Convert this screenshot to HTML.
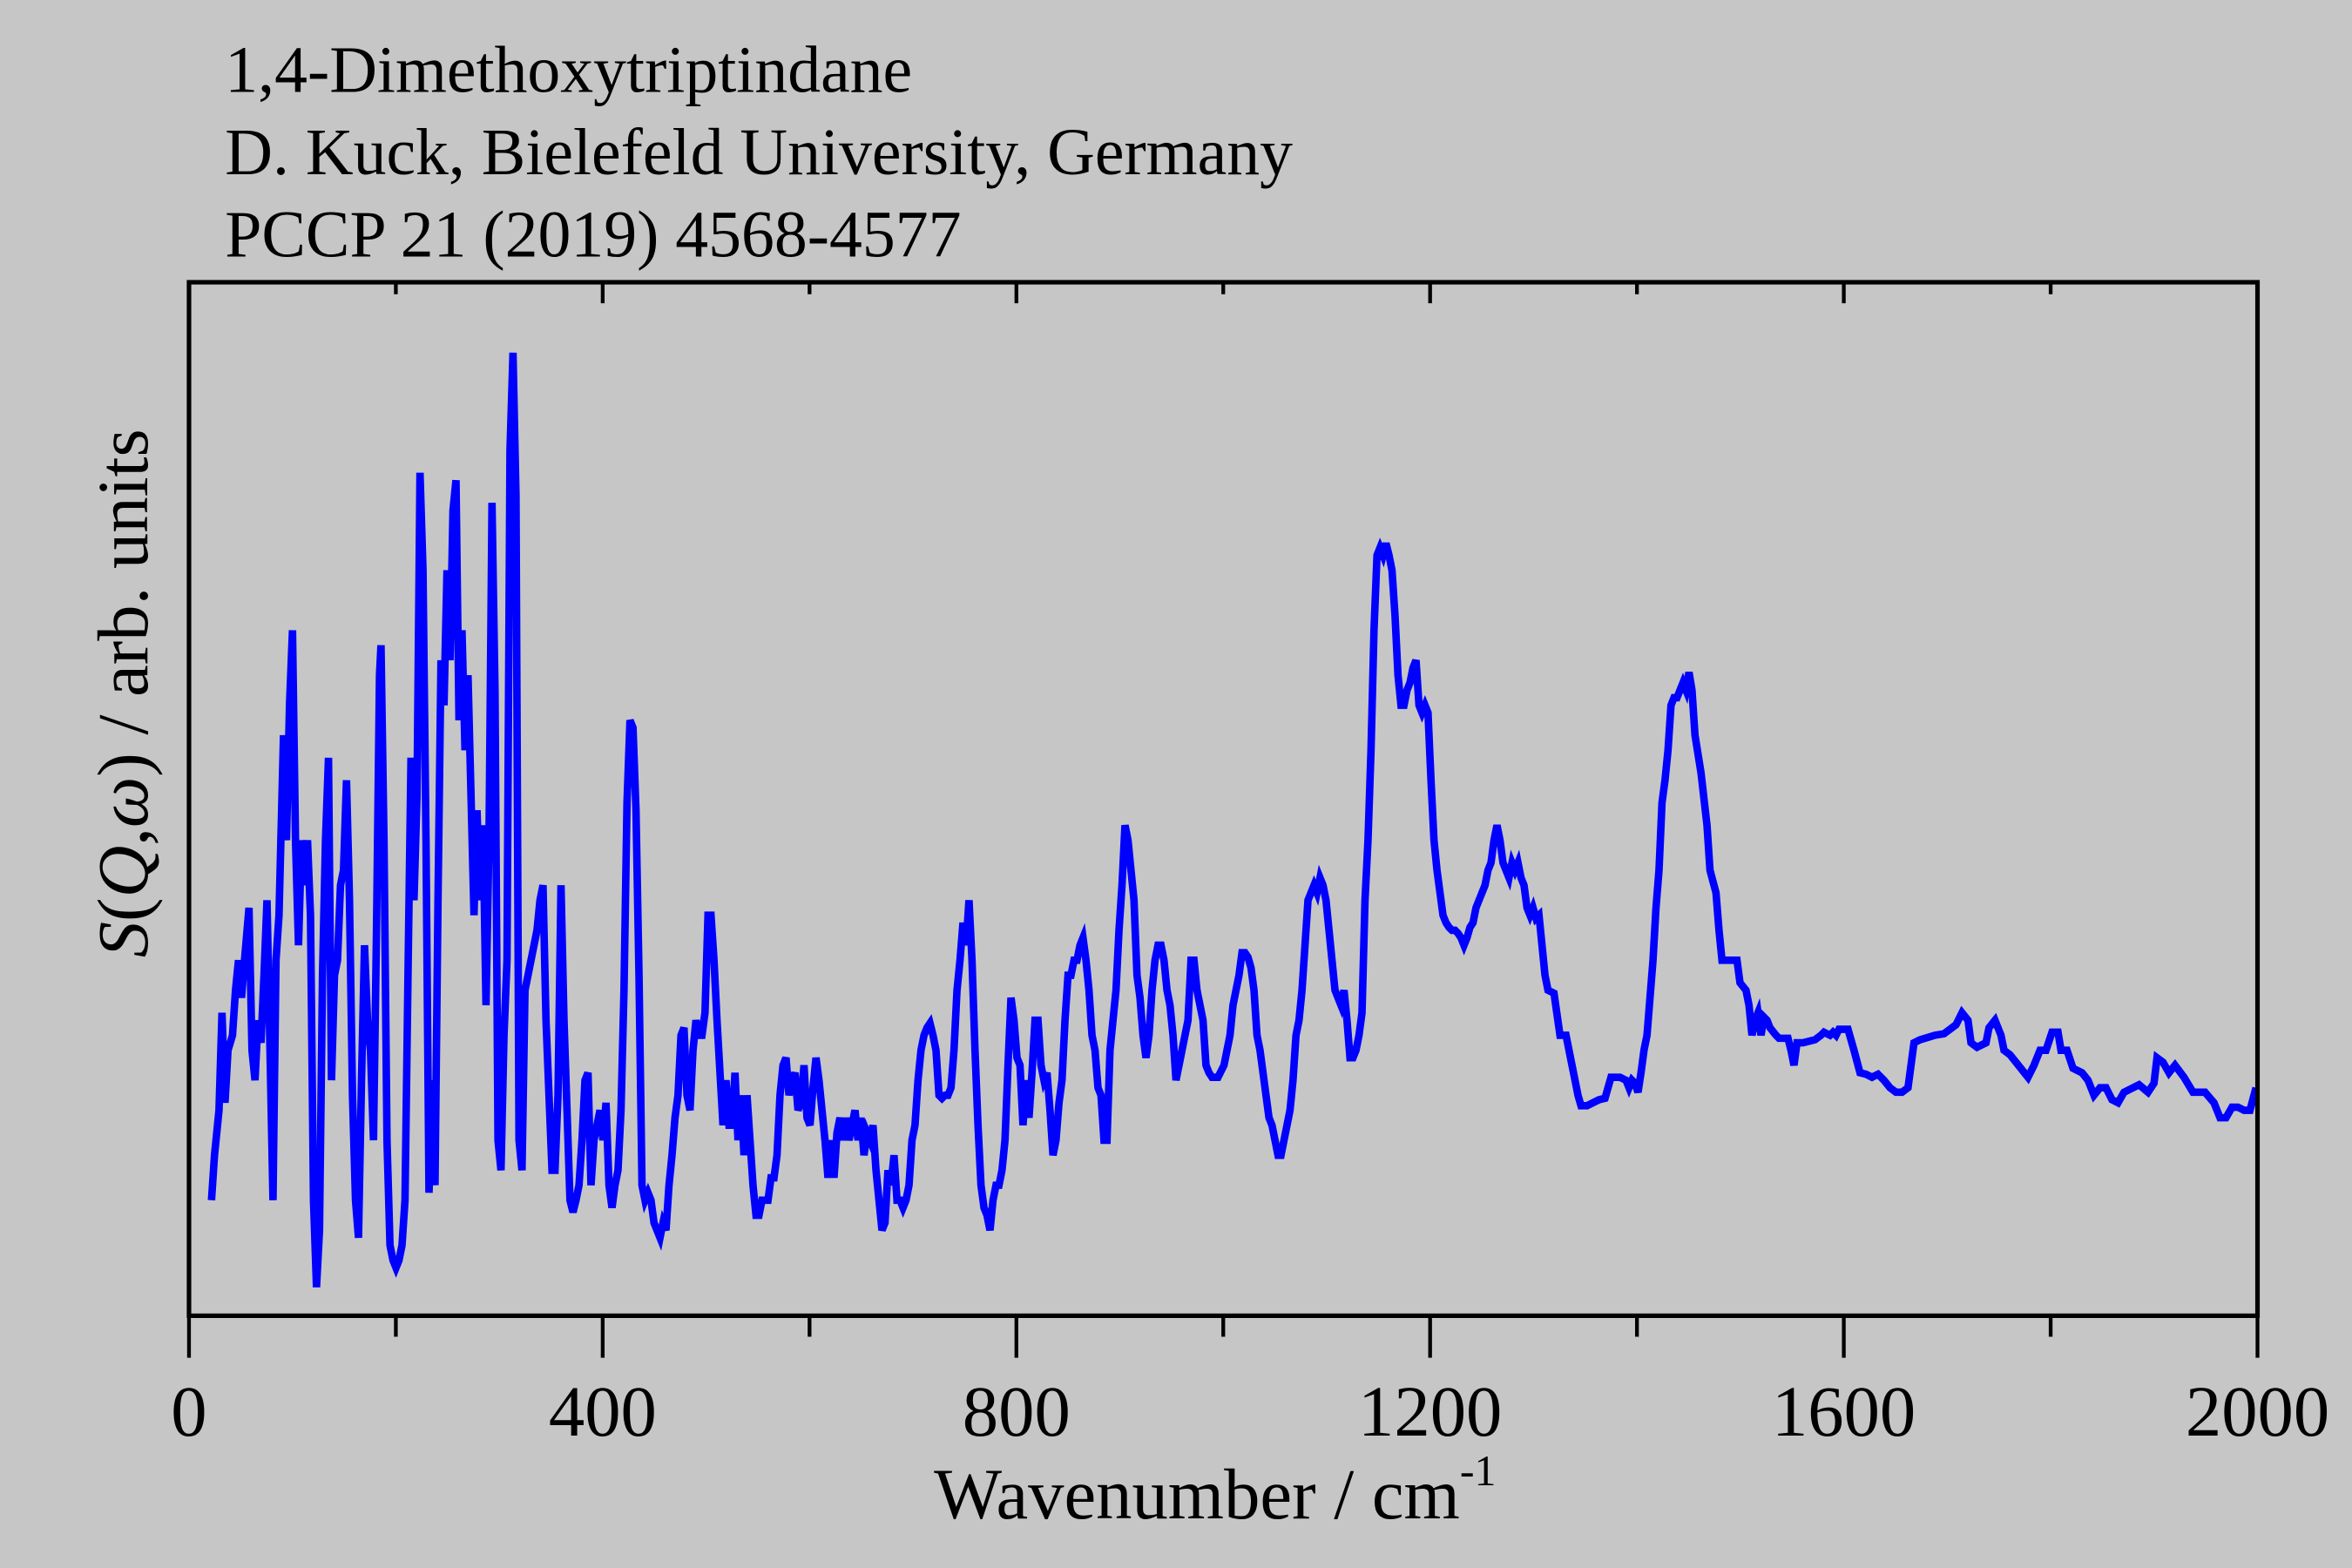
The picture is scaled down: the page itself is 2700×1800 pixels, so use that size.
<!DOCTYPE html>
<html><head><meta charset="utf-8"><style>html,body{margin:0;padding:0;background:#c6c6c6}svg{display:block}</style></head>
<body>
<svg width="2700" height="1800" viewBox="0 0 1568 1045" xmlns="http://www.w3.org/2000/svg">
<rect width="1568" height="1045" fill="#c6c6c6"/>
<g font-family="Liberation Serif, serif" fill="#000">
<text x="150" y="61" font-size="44">1,4-Dimethoxytriptindane</text>
<text x="150" y="116" font-size="44">D. Kuck, Bielefeld University, Germany</text>
<text x="150" y="171" font-size="44">PCCP 21 (2019) 4568-4577</text>
<g font-size="48" text-anchor="middle">
<text x="126" y="957">0</text><text x="401.8" y="957">400</text><text x="677.6" y="957">800</text>
<text x="953.4" y="957">1200</text><text x="1229.2" y="957">1600</text><text x="1505" y="957">2000</text>
</g>
<text x="810" y="1012" font-size="48" text-anchor="middle">Wavenumber / cm<tspan font-size="29" dy="-22">-1</tspan></text>
<text transform="translate(98,462) rotate(-90)" font-size="48" text-anchor="middle"><tspan font-style="italic">S</tspan>(<tspan font-style="italic">Q</tspan>,<tspan font-style="italic">ω</tspan>) / arb. units</text>
</g>
<polyline fill="none" stroke="#0000ff" stroke-width="5" stroke-linejoin="miter" points="141,800 143,770 146,740 148,675 150,735 152,700 155,690 157,660 159,640 161,665 163,640 166,605 168,700 170,720 172,680 174,695 176,650 178,600 180,700 182,800 184,640 186,610 188,530 189,490 191,560 193,470 195,420 197,560 199,630 201,560 203,590 205,560 207,610 209,800 211,858 213,820 215,650 217,560 219,505 221,720 223,650 225,640 227,590 229,580 231,520 233,600 235,730 237,800 239,825 241,720 243,630 245,680 247,700 249,760 251,620 253,450 254,430 256,560 258,760 260,830 262,840 264,845 266,840 268,830 270,800 272,650 274,505 276,600 278,530 280,315 282,380 284,560 286,795 288,720 290,790 292,600 294,440 296,470 298,380 300,440 302,340 304,320 306,480 308,420 310,500 312,450 314,530 316,610 318,540 320,600 322,550 324,670 326,560 328,335 330,460 332,760 334,780 336,690 338,640 340,300 342,235 344,330 346,760 348,780 350,660 352,650 354,640 356,630 358,620 360,600 362,590 364,680 366,730 368,780 370,780 372,730 374,590 376,680 378,740 380,800 382,808 384,800 386,790 388,760 390,720 392,715 394,790 396,760 398,750 400,740 402,760 404,735 406,790 408,805 410,790 412,780 414,740 416,660 418,535 420,480 422,485 424,540 426,650 428,790 430,800 432,795 434,800 436,815 438,820 440,825 442,815 444,820 446,790 448,770 450,745 452,730 454,690 456,685 458,730 460,740 462,700 464,680 466,690 468,690 470,675 472,610 474,610 476,640 478,680 480,715 482,750 484,720 486,750 488,750 490,715 492,760 494,730 496,770 498,730 500,760 502,790 504,810 506,810 508,800 512,800 514,785 516,785 518,770 520,730 522,710 524,705 526,730 528,720 530,715 532,740 534,735 536,710 538,745 540,750 542,725 544,705 546,720 548,740 550,760 552,785 554,760 556,785 558,755 560,745 562,760 564,745 566,760 568,750 570,740 572,760 574,745 576,770 578,755 580,760 582,750 584,780 586,800 588,820 590,815 592,780 594,790 596,770 598,800 600,800 602,805 604,800 606,790 608,760 610,750 612,720 614,700 616,690 618,685 620,682 622,690 624,700 626,730 628,732 630,730 632,730 634,725 636,700 638,660 640,640 642,615 644,630 646,600 648,640 650,700 652,750 654,790 656,805 658,810 660,820 662,800 664,790 666,790 668,780 670,760 672,710 674,665 676,680 678,705 680,710 682,750 684,720 686,745 688,715 690,680 692,680 694,710 696,720 698,715 700,740 702,770 704,760 706,735 708,720 710,680 712,650 714,650 716,640 718,640 720,630 722,625 724,640 726,660 728,690 730,700 732,725 734,730 736,760 738,760 740,700 742,680 744,660 746,620 748,590 750,550 752,560 754,580 756,600 758,650 760,665 762,690 764,705 766,690 768,660 770,640 772,630 774,630 776,640 778,660 780,670 782,690 784,720 786,710 788,700 790,690 792,680 794,640 796,640 798,660 800,670 802,680 804,710 806,715 808,718 812,718 816,710 818,700 820,690 822,670 824,660 826,650 828,635 830,635 832,638 834,645 836,660 838,690 840,700 842,715 844,730 846,745 848,750 850,760 852,770 854,770 856,760 858,750 860,740 862,720 864,690 866,680 868,660 870,630 872,600 874,595 876,590 878,595 880,585 882,590 884,600 886,620 888,640 890,660 892,665 894,670 896,660 898,680 900,705 902,705 904,700 906,690 908,675 910,600 912,560 914,500 916,420 918,370 920,365 922,370 924,362 926,370 928,380 930,410 932,450 934,470 936,470 938,460 940,455 942,445 944,440 946,470 948,475 950,470 952,475 954,520 956,560 958,580 960,595 962,610 964,615 966,618 968,620 970,620 972,622 974,625 976,630 978,625 980,618 982,615 984,605 986,600 988,595 990,590 992,580 994,575 996,560 998,550 1000,560 1002,575 1004,580 1006,585 1008,575 1010,580 1012,575 1014,585 1016,590 1018,605 1020,610 1022,605 1024,612 1026,610 1028,630 1030,650 1032,660 1036,662 1040,690 1044,690 1046,700 1048,710 1050,720 1052,730 1054,737 1058,737 1062,735 1066,733 1070,732 1072,725 1074,718 1080,718 1084,720 1086,725 1088,720 1090,722 1092,728 1094,715 1096,700 1098,690 1100,665 1102,640 1104,605 1106,580 1108,535 1110,520 1112,500 1114,470 1116,465 1118,465 1120,460 1122,455 1124,460 1126,448 1128,460 1130,490 1134,515 1138,550 1140,580 1144,595 1146,620 1148,640 1152,640 1158,640 1160,655 1164,660 1166,670 1168,690 1170,680 1172,675 1174,690 1176,678 1178,680 1180,685 1184,690 1186,692 1192,692 1194,700 1196,710 1198,695 1202,695 1210,693 1214,690 1216,688 1220,690 1222,688 1224,690 1226,686 1232,686 1236,700 1240,715 1244,716 1248,718 1252,716 1256,720 1260,725 1264,728 1268,728 1272,725 1276,695 1280,693 1290,690 1296,689 1300,686 1304,683 1308,675 1312,680 1314,695 1318,698 1324,695 1326,685 1330,680 1334,690 1336,700 1340,703 1344,708 1348,713 1352,718 1356,710 1360,700 1364,700 1368,688 1372,688 1374,700 1378,700 1382,712 1388,715 1392,720 1396,730 1400,725 1404,725 1408,733 1412,735 1416,728 1420,726 1426,723 1432,728 1436,722 1438,705 1442,708 1446,715 1450,710 1456,718 1462,728 1470,728 1476,735 1480,745 1484,745 1488,738 1492,738 1496,740 1500,740 1504,725"/>
<rect x="126" y="188" width="1379" height="689" fill="none" stroke="#000" stroke-width="3"/>
<g stroke="#000" stroke-width="2.5">
<path d="M126,877V905M401.8,877V905M677.6,877V905M953.4,877V905M1229.2,877V905M1505,877V905"/>
<path d="M263.9,877V891M539.7,877V891M815.5,877V891M1091.3,877V891M1367.1,877V891"/>
<path d="M401.8,188V202M677.6,188V202M953.4,188V202M1229.2,188V202"/>
<path d="M263.9,188V196M539.7,188V196M815.5,188V196M1091.3,188V196M1367.1,188V196"/>
</g>
</svg>
</body></html>
